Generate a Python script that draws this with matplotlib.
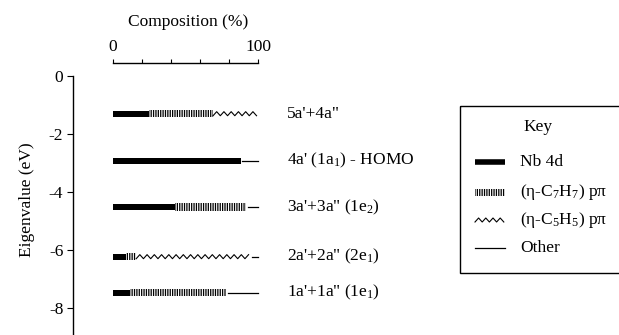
import numpy as np
import matplotlib
matplotlib.use("Agg")
import matplotlib.pyplot as plt
from matplotlib.patches import Rectangle

# -- Data
levels = ['5a\'+4a"', "4a' (1a$_1$) - HOMO", '3a\'+3a" (1e$_2$)',
          '2a\'+2a" (2e$_1$)', '1a\'+1a" (1e$_1$)']
energies = [-1.30, -2.92, -4.52, -6.23, -7.47]   # eV
nb4d = [25, 88, 43, 9, 12]                       # % composition
c7h7 = [44, 0, 49, 7, 66]
c5h5 = [31, 0, 0, 79, 0]
other = [0, 12, 8, 5, 22]
yticks = [0, -2, -4, -6, -8]
xticks = [0, 20, 40, 60, 80, 100]
xticklabels = ['0', '', '', '', '', '100']

plt.rcParams['font.family'] = ['Liberation Serif', 'DejaVu Serif']
plt.rcParams['mathtext.fontset'] = 'custom'
plt.rcParams['mathtext.rm'] = 'Liberation Serif'
plt.rcParams['mathtext.it'] = 'Liberation Serif:italic'
plt.rcParams['hatch.linewidth'] = 0.9
FS = 12.5

W, H = 619, 335
fig = plt.figure(figsize=(W / 100, H / 100), dpi=100)

# main axes: left spine at x=73px, top spine at y=63px
ax = fig.add_axes([73 / W, 0, 227 / W, 1 - 63 / H])
ax.set_xlim(-(113 - 73) / 1.45, (300 - 113) / 1.45)
ax.set_ylim(-(H - 76) / 29, (76 - 63) / 29)

nb4d_a, c7h7_a, c5h5_a, other_a = map(np.array, (nb4d, c7h7, c5h5, other))
start_c7 = nb4d_a
start_c5 = start_c7 + c7h7_a
start_ot = start_c5 + c5h5_a

# Nb 4d: thick black bars
ax.barh(energies, nb4d_a, left=0, height=0.21, color='black', linewidth=0)
# (eta-C7H7) p-pi: vertical hatching
ax.barh(energies, c7h7_a, left=start_c7, height=0.25, facecolor='none',
        edgecolor='black', linewidth=0, hatch='|||||||')
# (eta-C5H5) p-pi: zigzag
amp, half = 0.07, 2.5
for e, s, w in zip(energies, start_c5, c5h5_a):
    if w <= 0:
        continue
    xs = np.arange(s, s + w + 1e-9, half)
    ys = e + amp * np.where(np.arange(len(xs)) % 2 == 0, -1, 1)
    ax.plot(xs, ys, color='black', linewidth=0.8)
# Other: thin line
for e, s, w in zip(energies, start_ot, other_a):
    if w > 0:
        ax.plot([s + 1, s + w], [e, e], color='black', linewidth=0.9)

for e, lab in zip(energies, levels):
    ax.text(120, e, lab, va='center', ha='left', fontsize=FS, clip_on=False)

ax.spines['right'].set_visible(False)
ax.spines['bottom'].set_visible(False)
ax.spines['left'].set_bounds(ax.get_ylim()[0], 0)
ax.spines['top'].set_bounds(0, 100)
ax.spines['left'].set_linewidth(1.0)
ax.spines['top'].set_linewidth(1.0)
ax.set_yticks(yticks)
ax.set_yticklabels([str(t) for t in yticks])
ax.tick_params(axis='y', direction='out', length=4, labelsize=FS, pad=3)
ax.xaxis.tick_top()
ax.set_xticks(xticks)
ax.set_xticklabels(xticklabels)
ax.tick_params(axis='x', direction='out', length=3, labelsize=FS, pad=3)
ax.patch.set_visible(False)

fig.text(188 / W, 1 - 22 / H, 'Composition (%)', ha='center', va='center',
         fontsize=FS)
fig.text(27 / W, 1 - 200 / H, 'Eigenvalue (eV)', ha='center', va='center',
         rotation=90, fontsize=FS)

# -- Key (drawn in pixel coordinates on an overlay)
ov = fig.add_axes([0, 0, 1, 1])
ov.set_xlim(0, W)
ov.set_ylim(H, 0)
ov.axis('off')
ov.add_patch(Rectangle((460, 106), 200, 167, fill=False, linewidth=1.0,
                       edgecolor='black', clip_on=False))
ov.text(538, 127, 'Key', ha='center', va='center', fontsize=FS)
key_y = [162, 192, 220, 248]
key_labels = ['Nb 4d', '(η-C$_7$H$_7$) pπ', '(η-C$_5$H$_5$) pπ', 'Other']
ov.plot([475, 505], [key_y[0]] * 2, color='black', linewidth=4, solid_capstyle='butt')
ov.add_patch(Rectangle((475, key_y[1] - 3.5), 30, 7, facecolor='none',
                       edgecolor='black', linewidth=0, hatch='|||||||'))
zx = np.arange(475, 505.1, 3.6)
ov.plot(zx, key_y[2] + 2 * np.where(np.arange(len(zx)) % 2 == 0, 1, -1),
        color='black', linewidth=0.8)
ov.plot([475, 505], [key_y[3]] * 2, color='black', linewidth=0.9)
for y, lab in zip(key_y, key_labels):
    ov.text(520, y, lab, ha='left', va='center', fontsize=FS)

fig.savefig('out.png', dpi=100)
